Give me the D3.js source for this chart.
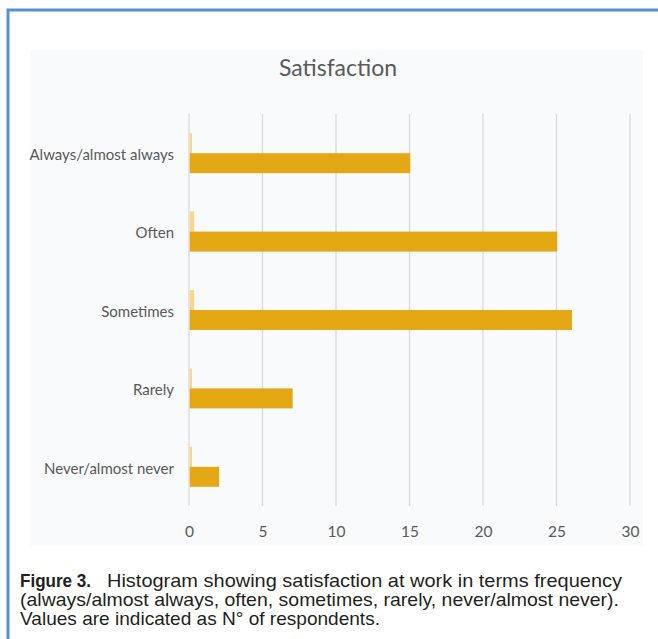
<!DOCTYPE html>
<html>
<head>
<meta charset="utf-8">
<script src="https://cdn.jsdelivr.net/npm/d3@7"></script>
<style>
  html, body { margin: 0; padding: 0; background: #ffffff; }
  svg { display: block; }
</style>
</head>
<body>
<svg id="chart" width="658" height="639"></svg>
<script>
// Satisfaction at work, number of respondents per frequency category
const categories = ["Always/almost always", "Often", "Sometimes", "Rarely", "Never/almost never"];
const seriesNames = ["minor", "respondents"];
const minorValues = [0.15, 0.3, 0.3, 0.15, 0.15];
const respondentValues = [15, 25, 26, 7, 2];
const xTicks = [0, 5, 10, 15, 20, 25, 30];
const titleText = "Satisfaction";
const captionBold = "Figure 3.";
const captionLines = [
  "Histogram showing satisfaction at work in terms frequency",
  "(always/almost always, often, sometimes, rarely, never/almost never).",
  "Values are indicated as N\u00B0 of respondents."
];

const rows = categories.map((c, i) => ({
  category: c,
  minor: minorValues[i],
  respondents: respondentValues[i]
}));

const svg = d3.select("#chart");
const W = 658, H = 639;

// page frame
svg.append("path")
  .attr("d", `M8,${H} L8,10 L${W},10`)
  .attr("fill", "none")
  .attr("stroke", "#5b8ecf")
  .attr("stroke-width", 3);

// chart area background
svg.append("rect")
  .attr("x", 30).attr("y", 50)
  .attr("width", 613).attr("height", 496)
  .attr("fill", "#f8fafc");

const x = d3.scaleLinear().domain([0, 30]).range([189, 630]);
const y = d3.scaleBand().domain(categories).range([114, 506])
  .paddingInner(0.49).paddingOuter(0.245);
const ySub = d3.scaleBand().domain(seriesNames).range([0, y.bandwidth()]);
const colors = d3.scaleOrdinal().domain(seriesNames).range(["#f9d68c", "#e3a813"]);

const labelFont = "Lato, 'Open Sans', sans-serif";
const textGray = "#595959";

// vertical gridlines
svg.append("g")
  .selectAll("line")
  .data(xTicks)
  .join("line")
  .attr("x1", d => x(d)).attr("x2", d => x(d))
  .attr("y1", 114).attr("y2", 506)
  .attr("stroke", "#dadada")
  .attr("stroke-width", 1.3);

// x axis tick labels
const xAxis = d3.axisBottom(x).tickValues(xTicks).tickSize(0).tickPadding(0);
const gx = svg.append("g").attr("transform", "translate(0,526)").call(xAxis);
gx.select(".domain").remove();
gx.selectAll("text")
  .attr("font-family", labelFont)
  .attr("font-size", 15.5)
  .attr("fill", textGray)
  .attr("dy", "0.71em");

// category labels
const yAxis = d3.axisLeft(y).tickSize(0).tickPadding(0);
const gy = svg.append("g").attr("transform", "translate(174,2)").call(yAxis);
gy.select(".domain").remove();
gy.selectAll("text")
  .attr("font-family", labelFont)
  .attr("font-size", 15)
  .attr("fill", textGray);

// bars
const groups = svg.append("g")
  .selectAll("g")
  .data(rows)
  .join("g")
  .attr("transform", d => `translate(0,${y(d.category)})`);

groups.selectAll("rect")
  .data(d => seriesNames.map(s => ({ key: s, value: d[s] })))
  .join("rect")
  .attr("x", x(0) + 0.75)
  .attr("y", d => ySub(d.key))
  .attr("width", d => x(d.value) - x(0))
  .attr("height", ySub.bandwidth())
  .attr("fill", d => colors(d.key));

// title
svg.append("text")
  .attr("x", 338).attr("y", 67)
  .attr("text-anchor", "middle")
  .attr("dominant-baseline", "central")
  .attr("font-family", labelFont)
  .attr("font-size", 23)
  .attr("fill", textGray)
  .text(titleText);

// caption, set in a condensed width
const capFont = "'Liberation Sans', Arial, sans-serif";
const cap = svg.append("g")
  .attr("font-family", capFont)
  .attr("font-size", 19)
  .attr("fill", "#231f20");
const baselines = [587, 606, 625];
cap.append("text")
  .attr("x", 20).attr("y", baselines[0])
  .attr("font-weight", "bold")
  .attr("textLength", 71)
  .attr("lengthAdjust", "spacingAndGlyphs")
  .text(captionBold);
cap.append("text")
  .attr("x", 107).attr("y", baselines[0])
  .attr("textLength", 515)
  .attr("lengthAdjust", "spacingAndGlyphs")
  .text(captionLines[0]);
cap.append("text")
  .attr("x", 20).attr("y", baselines[1])
  .attr("textLength", 599)
  .attr("lengthAdjust", "spacingAndGlyphs")
  .text(captionLines[1]);
cap.append("text")
  .attr("x", 20).attr("y", baselines[2])
  .attr("textLength", 360)
  .attr("lengthAdjust", "spacingAndGlyphs")
  .text(captionLines[2]);
</script>
</body>
</html>
